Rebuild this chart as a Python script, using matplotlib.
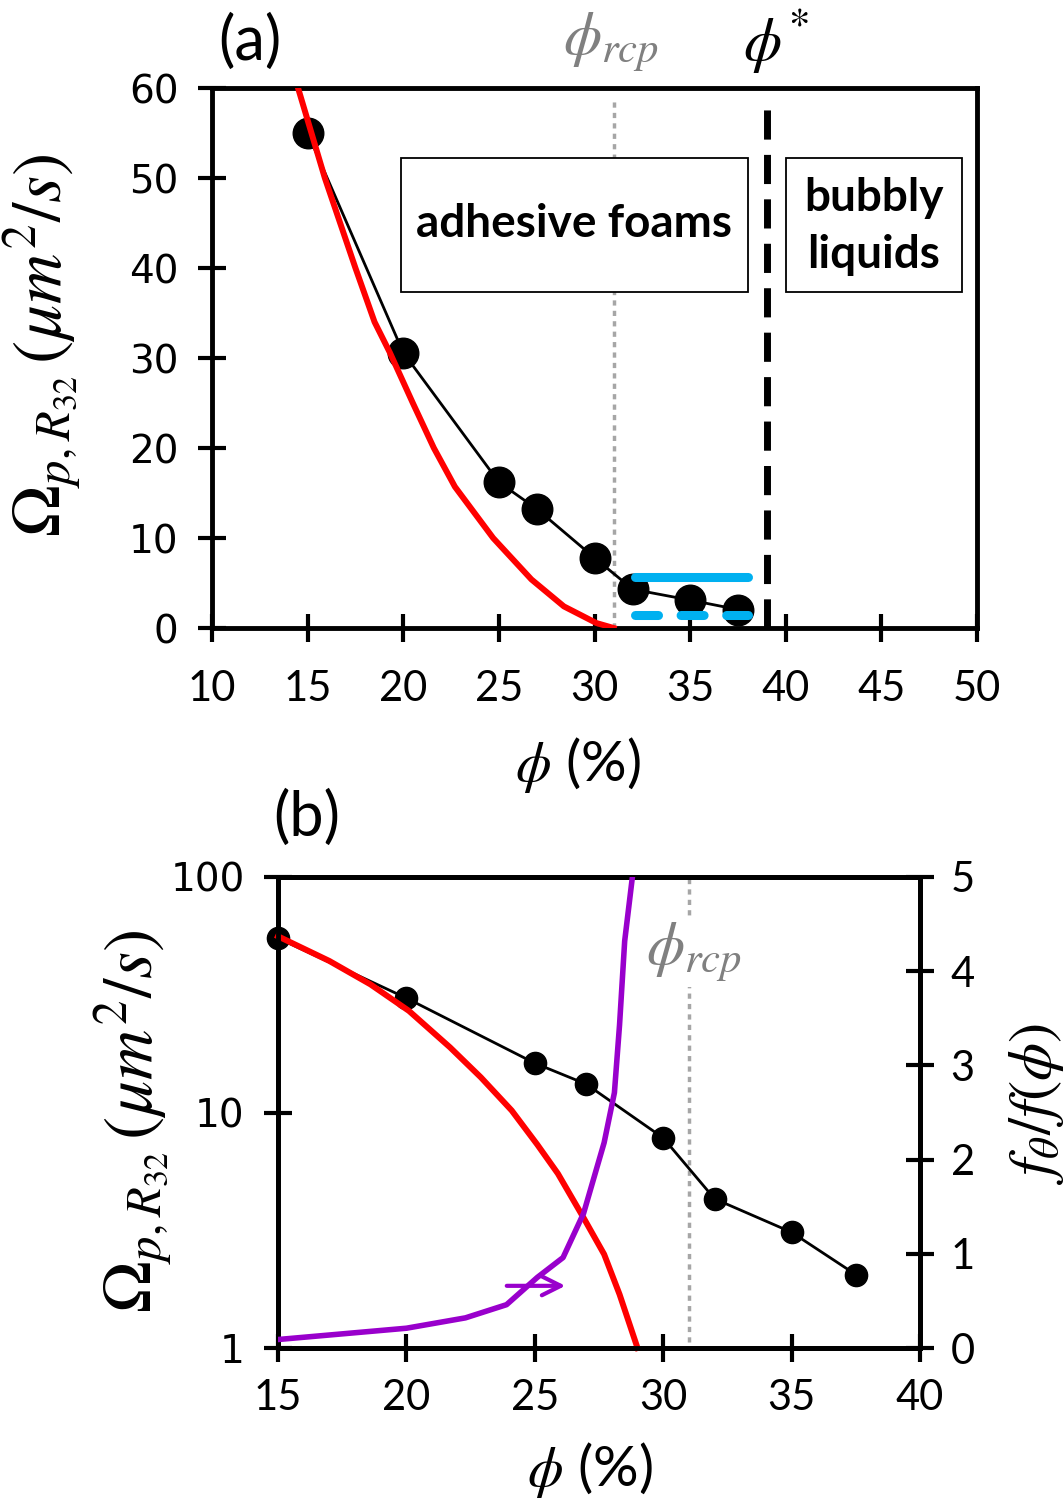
import numpy as np
import matplotlib
matplotlib.use("Agg")
import matplotlib.pyplot as plt
from matplotlib.patches import Rectangle

plt.rcParams['font.family'] = ['Lato', 'DejaVu Sans']
plt.rcParams['mathtext.fontset'] = 'stix'

# measured points (same data in both panels)
phi_pts = [15, 20, 25, 27, 30, 32, 35, 37.5]
omega_pts = [55, 30.6, 16.2, 13.2, 7.8, 4.3, 3.1, 2.05]

# model curve, panel (a)
phi_red_a = [14.5, 15.9, 17.5, 18.5, 19.3, 20.5, 21.6, 22.7, 24.7, 26.7, 28.4, 30.1, 31.0]
omega_red_a = [60, 50, 40, 34, 30.6, 25, 20, 15.7, 10, 5.4, 2.4, 0.55, 0]

# model curve, panel (b)
phi_red_b = [15, 17, 18.6, 20.1, 21.7, 22.9, 24.1, 25.1, 25.9, 26.9, 27.7, 28.3, 29.0]
omega_red_b = [56, 44, 35, 27, 18.9, 14.1, 10.2, 7.3, 5.5, 3.57, 2.5, 1.69, 1.0]

# f_theta / f(phi), right axis of panel (b)
phi_purple = [15, 20, 22.3, 23.9, 25.1, 26.1, 26.9, 27.7, 28.1, 28.3, 28.5, 28.8]
ratio_purple = [0.09, 0.21, 0.32, 0.46, 0.75, 0.96, 1.43, 2.18, 2.71, 3.43, 4.32, 5.0]

# blue bars, panel (a)
phi_blue = [32.1, 38.0]
omega_blue_hi = 5.7
omega_blue_lo = 1.4

phi_rcp = 31
phi_star = 39

xticks_a = [10, 15, 20, 25, 30, 35, 40, 45, 50]
yticks_a = [0, 10, 20, 30, 40, 50, 60]
xticks_b = [15, 20, 25, 30, 35, 40]
yticks_b = [1, 10, 100]
rticks_b = [0, 1, 2, 3, 4, 5]

red = "#ff0000"
blue = "#00b0f0"
purple = "#9900cc"
grey = "#a6a6a6"

fig = plt.figure(figsize=(10.63, 15.06), dpi=100)

ylab = r'$\Omega_{p,R_{32}}\,(\mu m^2/s)$'


def style_axes(ax, pad):
    for s in ax.spines.values():
        s.set_linewidth(3.5)
    ax.tick_params(direction='inout', length=20, width=3, labelsize=30, pad=pad)


# ---------------- panel (a) ----------------
axa = fig.add_axes([212/1063, 1-628/1506, 765/1063, 540/1506])
style_axes(axa, 20)
axa.set_xlim(10, 50)
axa.set_ylim(0, 60)
axa.set_xticks(xticks_a)
axa.set_yticks(yticks_a)
axa.tick_params(axis='y', pad=14)
for lab in axa.get_yticklabels():
    lab.set_fontfamily('DejaVu Sans')
    lab.set_fontsize(28)

axa.plot([phi_rcp, phi_rcp], [0, 59], color=grey, lw=2.5, ls=(0, (1.5, 1.5)), zorder=1)
axa.plot([phi_star, phi_star], [0, 58.8], color='black', lw=5, ls=(0, (4.2, 2.2)), zorder=1)

axa.add_patch(Rectangle((19.9, 37.3), 38.0-19.9, 52.2-37.3, facecolor='white', edgecolor='black', lw=1.3, zorder=2))
axa.add_patch(Rectangle((40.0, 37.3), 49.2-40.0, 52.2-37.3, facecolor='white', edgecolor='black', lw=1.3, zorder=2))
axa.text((19.9+38.0)/2, 44.9, "adhesive foams", ha='center', va='center', fontsize=33, fontweight='bold', zorder=3)
axa.text((40.0+49.2)/2, 44.6, "bubbly\nliquids", ha='center', va='center', fontsize=33, fontweight='bold', linespacing=1.42, zorder=3)

axa.plot(phi_pts, omega_pts, color='black', lw=2, marker='o', ms=22, zorder=4, clip_on=False)
axa.plot(phi_red_a, omega_red_a, color=red, lw=4.3, zorder=5)

axa.plot(phi_blue, [omega_blue_hi, omega_blue_hi], color=blue, lw=6.5, solid_capstyle='round', zorder=6)
axa.plot(phi_blue, [omega_blue_lo, omega_blue_lo], color=blue, lw=6.5, ls=(0, (2.55, 2.5)), dash_capstyle='round', zorder=6)

fig.text(250/1063, 1-42/1506, "(a)", fontsize=44, ha='center', va='center')
fig.text(611/1063, 1-42/1506, r'$\phi_{rcp}$', fontsize=44, color='#808080', ha='center', va='center')
fig.text(776/1063, 1-42/1506, r'$\phi^{*}$', fontsize=44, color='black', ha='center', va='center')
fig.text(578/1063, 1-765/1506, r'$\phi$ (%)', fontsize=41, ha='center', va='center')
fig.text(42/1063, 1-345/1506, ylab, fontsize=50, rotation=90, ha='center', va='center')

# ---------------- panel (b) ----------------
axb = fig.add_axes([278/1063, 1-1348/1506, 642/1063, 471/1506])
style_axes(axb, 12)
axb.set_xlim(15, 40)
axb.set_yscale('log')
axb.set_ylim(1, 100)
axb.set_xticks(xticks_b)
axb.set_yticks(yticks_b)
axb.set_yticklabels([str(v) for v in yticks_b])
axb.yaxis.set_minor_locator(matplotlib.ticker.NullLocator())
axb.tick_params(axis='y', pad=14)
for lab in axb.get_yticklabels():
    lab.set_fontfamily('DejaVu Sans')
    lab.set_fontsize(28)

axr = axb.twinx()
style_axes(axr, 12)
axr.set_ylim(0, 5)
axr.set_yticks(rticks_b)

axb.plot([phi_rcp, phi_rcp], [1.065, 98], color=grey, lw=2.5, ls=(0, (1.5, 1.5)), zorder=1)
axb.text(31.2, 48, r'$\phi_{rcp}$', fontsize=44, color='#808080', ha='center', va='center',
         bbox=dict(facecolor='white', edgecolor='none', pad=2), zorder=2)
axb.plot(phi_pts, omega_pts, color='black', lw=2, marker='o', ms=16, zorder=4, clip_on=False)
axb.plot(phi_red_b, omega_red_b, color=red, lw=4.3, zorder=5, clip_on=False)

axr.plot(phi_purple, ratio_purple, color=purple, lw=4, zorder=3)
axr.annotate("", xy=(26.3, 0.66), xytext=(23.8, 0.66),
             arrowprops=dict(arrowstyle='->', color=purple, lw=3, mutation_scale=34))

fig.text(307/1063, 1-818/1506, "(b)", fontsize=44, ha='center', va='center')
fig.text(590/1063, 1-1470/1506, r'$\phi$ (%)', fontsize=41, ha='center', va='center')
fig.text(133/1063, 1-1121/1506, ylab, fontsize=50, rotation=90, ha='center', va='center')
fig.text(1036/1063, 1-1103/1506, r'$f_{\theta}/f(\phi)$', fontsize=44, rotation=90, ha='center', va='center')

fig.savefig("out.png", dpi=100)
